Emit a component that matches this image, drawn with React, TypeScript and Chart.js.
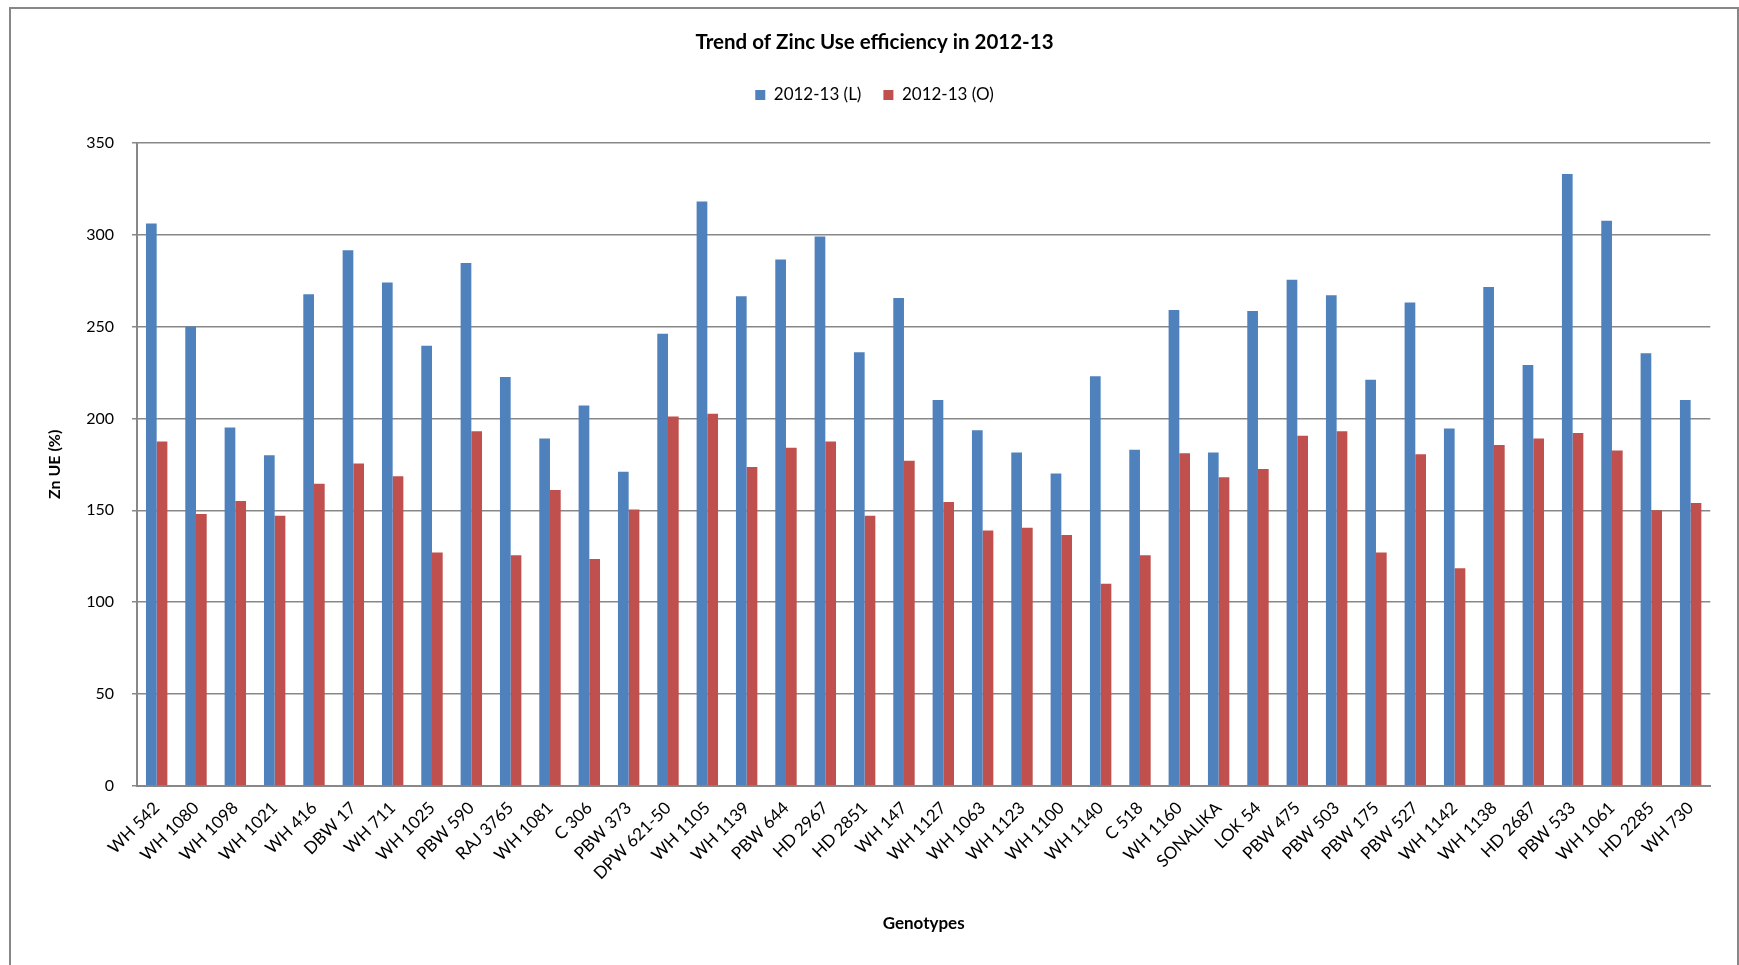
import React, { useEffect, useRef } from 'react';
import { Chart, registerables } from 'chart.js';

Chart.register(...registerables);

const genotypes = [
  'WH 542', 'WH 1080', 'WH 1098', 'WH 1021', 'WH 416', 'DBW 17', 'WH 711', 'WH 1025',
  'PBW 590', 'RAJ 3765', 'WH 1081', 'C 306', 'PBW 373', 'DPW 621-50', 'WH 1105', 'WH 1139',
  'PBW 644', 'HD 2967', 'HD 2851', 'WH 147', 'WH 1127', 'WH 1063', 'WH 1123', 'WH 1100',
  'WH 1140', 'C 518', 'WH 1160', 'SONALIKA', 'LOK 54', 'PBW 475', 'PBW 503', 'PBW 175',
  'PBW 527', 'WH 1142', 'WH 1138', 'HD 2687', 'PBW 533', 'WH 1061', 'HD 2285', 'WH 730',
];

const seriesL = [
  306, 250, 195, 180, 267.5, 291.5, 274, 239.5,
  284.5, 222.5, 189, 207, 171, 246, 318, 266.5,
  286.5, 299, 236, 265.5, 210, 193.5, 181.5, 170,
  223, 183, 259, 181.5, 258.5, 275.5, 267, 221,
  263, 194.5, 271.5, 229, 333, 307.5, 235.5, 210,
];

const seriesO = [
  187.5, 148, 155, 147, 164.5, 175.5, 168.5, 127,
  193, 125.5, 161, 123.5, 150.5, 201, 202.5, 173.5,
  184, 187.5, 147, 177, 154.5, 139, 140.5, 136.5,
  110, 125.5, 181, 168, 172.5, 190.5, 193, 127,
  180.5, 118.5, 185.5, 189, 192, 182.5, 150, 154,
];

const seriesNames = ['2012-13 (L)', '2012-13 (O)'];
const yMin = 0;
const yMax = 350;
const yStep = 50;

const FONT = 'Lato, "Open Sans", sans-serif';
const GRID = '#888888';

export default function App() {
  const ref = useRef<HTMLCanvasElement>(null);

  useEffect(() => {
    if (!ref.current) return;
    const chart = new Chart(ref.current, {
      type: 'bar',
      data: {
        labels: genotypes,
        datasets: [
          { label: seriesNames[0], data: seriesL, backgroundColor: '#4F81BD', borderWidth: 0 },
          { label: seriesNames[1], data: seriesO, backgroundColor: '#C0504D', borderWidth: 0 },
        ],
      },
      options: {
        responsive: false,
        animation: false,
        devicePixelRatio: 1,
        layout: { padding: { left: 38.7, right: 28.7, top: 0, bottom: 0 } },
        datasets: { bar: { categoryPercentage: 0.544, barPercentage: 1 } },
        plugins: {
          title: {
            display: true,
            text: 'Trend of Zinc Use efficiency in 2012-13',
            color: '#000',
            font: { family: FONT, size: 20.5, weight: 'bold', lineHeight: 1.2 },
            padding: { top: 29.7, bottom: 10.2 },
          },
          legend: {
            display: true,
            position: 'top',
            labels: {
              boxWidth: 10,
              boxHeight: 10,
              padding: 22,
              color: '#000',
              font: { family: FONT, size: 17 },
            },
          },
          subtitle: {
            display: true,
            text: '',
            position: 'top',
            weight: 500,
            padding: 0,
            font: { family: FONT, size: 10, lineHeight: 2.92 },
          } as any,
          tooltip: { enabled: false },
        },
        scales: {
          x: {
            grid: { display: false },
            border: { display: true, color: GRID, width: 2 },
            ticks: {
              autoSkip: false,
              minRotation: 45,
              maxRotation: 45,
              color: '#000',
              font: { family: FONT, size: 17 },
              padding: 4,
            },
            title: {
              display: true,
              text: 'Genotypes',
              color: '#000',
              font: { family: FONT, size: 17, weight: 'bold', lineHeight: 1.2 },
              padding: { top: 0, bottom: 30.8 },
            },
            afterFit: (s: any) => { s.height = 179; },
          },
          y: {
            min: yMin,
            max: yMax,
            ticks: {
              stepSize: yStep,
              color: '#000',
              font: { family: FONT, size: 16 },
              padding: 18,
            },
            grid: { color: GRID, lineWidth: 1.5, tickLength: 5 },
            border: { color: GRID, width: 2 },
            title: {
              display: true,
              text: 'Zn UE (%)',
              color: '#000',
              font: { family: FONT, size: 16, weight: 'bold', lineHeight: 1.2 },
              padding: { top: 6.7, bottom: 0 },
            },
            afterFit: (s: any) => { s.width = 98.3; },
          },
        },
      },
    });
    return () => chart.destroy();
  }, []);

  return (
    <div style={{ position: 'fixed', left: 0, top: 0, width: 1739, height: 965, overflow: 'hidden', background: '#fff' }}>
      <div
        style={{
          position: 'absolute',
          left: 9,
          top: 7,
          width: 1730,
          height: 1100,
          boxSizing: 'border-box',
          borderLeft: '2px solid #878787',
          borderTop: '2px solid #878787',
          borderRight: '2px solid #878787',
        }}
      />
      <canvas
        ref={ref}
        width={1739}
        height={965}
        style={{ position: 'absolute', left: 0, top: 0, width: 1739, height: 965 }}
      />
    </div>
  );
}
